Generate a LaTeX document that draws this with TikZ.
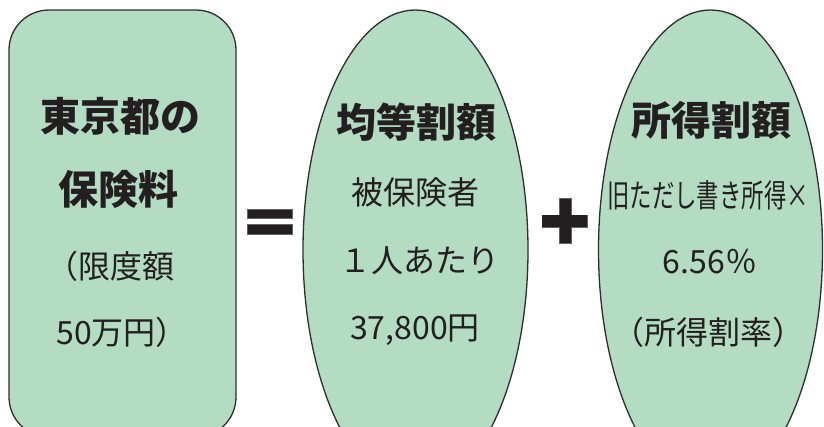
\documentclass[tikz,border=0pt]{standalone}
\usepackage{fontspec}
\setmainfont{Noto Sans CJK JP}
\usepackage{graphicx}
\usetikzlibrary{shapes.geometric}
\definecolor{fillgreen}{HTML}{B3DCC3}
\definecolor{inkc}{HTML}{231F20}
\definecolor{edgec}{HTML}{2E2E2E}
\newcommand\mytitle{\fontsize{40}{40}\selectfont\bfseries}
\newcommand\mybody{\fontsize{32}{32}\selectfont}
\tikzset{
  panel/.style={draw=edgec, line width=1.3pt, fill=fillgreen, inner sep=0pt},
  opbar/.style={fill=inkc, draw=inkc!70, line width=0.4pt, inner sep=0pt},
  lbl/.style={text=inkc, inner sep=0pt, anchor=center},
}
\begin{document}
\begin{tikzpicture}[x=1pt,y=-1pt]
\useasboundingbox (0,0) rectangle (824,426);
\begin{scope}
\clip (0,0) rectangle (824,426);
\node[panel, rectangle, rounded corners=40pt, minimum width=227pt, minimum height=427pt] (box) at (122.5,223.5) {};
\node[panel, ellipse, minimum width=225pt, minimum height=480pt] (e1) at (415.5,250) {};
\node[panel, ellipse, minimum width=224pt, minimum height=480pt] (e2) at (710.5,250) {};
\end{scope}
% equals sign
\node[opbar, minimum width=45pt, minimum height=9pt] (eqa) at (269.5,213.5) {};
\node[opbar, minimum width=45pt, minimum height=9.5pt] (eqb) at (269.5,229) {};
% plus sign
\node[opbar, minimum width=45pt, minimum height=12pt] (plh) at (564.5,221) {};
\node[opbar, minimum width=12pt, minimum height=45pt] (plv) at (565,220.5) {};
\fill[inkc] (plh.north west) rectangle (plh.south east);
% left box texts
\node[lbl] (b1) at (120,116) {\mytitle 東京都の};
\node[lbl] (b2) at (118,189) {\mytitle 保険料};
\node[lbl] (b3) at (110,266) {\mybody （限度額};
\node[lbl] (b4) at (122,332) {\mybody 50万円）};
% ellipse 1 texts
\node[lbl] (m1) at (416,122) {\mytitle 均等割額};
\node[lbl] (m2) at (415,192) {\mybody 被保険者};
\node[lbl] (m3) at (419,261) {\mybody １人あたり};
\node[lbl] (m4) at (415,330) {\mybody 37,800円};
% ellipse 2 texts
\node[lbl] (r1) at (711,120) {\mytitle 所得割額};
\node[lbl] (r2) at (708,195) {\mybody\scalebox{0.7}[1]{旧ただし書き所得×}};
\node[lbl] (r3) at (710,262) {\mybody 6.56％};
\node[lbl] (r4) at (708,332) {\mybody （所得割率）};
\end{tikzpicture}
\end{document}
